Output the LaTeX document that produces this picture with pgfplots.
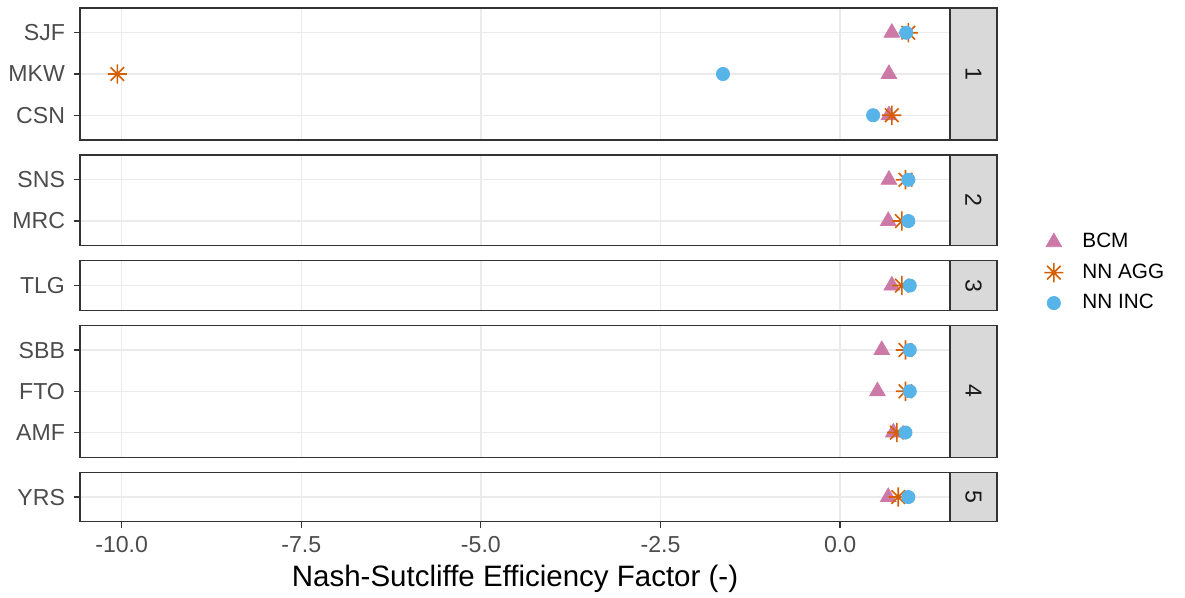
\documentclass[border=0pt]{standalone}
\usepackage{pgfplots}
\pgfplotsset{compat=1.18}
\usepackage{fontspec}
\setmainfont{Liberation Sans}
\definecolor{bcm}{HTML}{CC79A7}
\definecolor{agg}{HTML}{D55E00}
\definecolor{inc}{HTML}{56B4E9}
\definecolor{g10}{gray}{0.1}
\definecolor{g20}{gray}{0.2}
\definecolor{g30}{gray}{0.3}
\definecolor{g92}{gray}{0.92}
\definecolor{g85}{gray}{0.85}

\pgfdeclareplotmark{ast8}{%
  \pgfpathmoveto{\pgfqpoint{-\pgfplotmarksize}{0pt}}%
  \pgfpathlineto{\pgfqpoint{\pgfplotmarksize}{0pt}}%
  \pgfpathmoveto{\pgfqpoint{0pt}{-\pgfplotmarksize}}%
  \pgfpathlineto{\pgfqpoint{0pt}{\pgfplotmarksize}}%
  \pgfpathmoveto{\pgfqpoint{-0.7071\pgfplotmarksize}{-0.7071\pgfplotmarksize}}%
  \pgfpathlineto{\pgfqpoint{0.7071\pgfplotmarksize}{0.7071\pgfplotmarksize}}%
  \pgfpathmoveto{\pgfqpoint{-0.7071\pgfplotmarksize}{0.7071\pgfplotmarksize}}%
  \pgfpathlineto{\pgfqpoint{0.7071\pgfplotmarksize}{-0.7071\pgfplotmarksize}}%
  \pgfusepathqstroke}

\pgfplotsset{
  bcmst/.style={only marks, mark=triangle*, mark size=4.5bp, color=bcm, mark options={draw=bcm, fill=bcm}},
  aggst/.style={only marks, mark=ast8, mark size=4.8bp, color=agg, mark options={line width=0.8bp, draw=agg}},
  incst/.style={only marks, mark=*, mark size=3.3bp, color=inc, mark options={draw=inc, fill=inc}},
  panel/.style={
    scale only axis, width=435bp, xmin=-10.58, xmax=1.53, ymin=0.4,
    axis line style={draw=g20, line width=0.6bp},
    xtick={-10,-7.5,-5,-2.5,0},
    xmajorgrids, ymajorgrids, major grid style={draw=g92, line width=0.7bp},
    tick align=outside, major tick length=3bp,
    tick style={draw=g20, line width=0.6bp},
    xtick pos=bottom, ytick pos=left,
    yticklabel style={font=\fontsize{11.6}{13}\selectfont, text=g30, xshift=-1bp},
    clip=false,
  },
  inner/.style={xticklabels={}, x tick style={draw=none}},
}
\newcommand\strip[1]{%
  \draw[draw=g20, fill=g85, line width=0.6bp] (rel axis cs:1,0) rectangle ([xshift=23.5bp]rel axis cs:1,1);
  \node[rotate=-90, font=\fontsize{11.6}{13}\selectfont, text=g10] at ([xshift=11.75bp]rel axis cs:1,0.5) {#1};
}

\begin{document}
\begin{tikzpicture}
% Panel 1
\begin{axis}[panel, inner, name=p1, at={(0,0)}, anchor=north west,
  height=66bp, ymax=3.6, ytick={1,2,3}, yticklabels={CSN,MKW,SJF},
  legend style={at={(rel axis cs:1.101,-1.005)}, anchor=west, draw=none, fill=none,
    font=\fontsize{10.4}{12}\selectfont, row sep=2.5bp, text=black},
  legend cell align=left]
\addplot[bcmst] coordinates {(0.72,3) (0.68,2) (0.68,1)};
\addlegendentry{\hspace{7.5bp}BCM}
\addplot[aggst] coordinates {(0.95,3) (-10.06,2) (0.72,1)};
\addlegendentry{\hspace{7.5bp}NN AGG}
\addplot[incst] coordinates {(0.92,3) (-1.63,2) (0.46,1)};
\addlegendentry{\hspace{7.5bp}NN INC}
\strip{1}
\end{axis}
% Panel 2
\begin{axis}[panel, inner, name=p2, at={(p1.south west)}, anchor=north west, yshift=-7.5bp,
  height=45.4bp, ymax=2.6, ytick={1,2}, yticklabels={MRC,SNS}]
\addplot[bcmst] coordinates {(0.68,2) (0.67,1)};
\addplot[aggst] coordinates {(0.91,2) (0.86,1)};
\addplot[incst] coordinates {(0.95,2) (0.95,1)};
\strip{2}
\end{axis}
% Panel 3
\begin{axis}[panel, inner, name=p3, at={(p2.south west)}, anchor=north west, yshift=-7.5bp,
  height=24.75bp, ymax=1.6, ytick={1}, yticklabels={TLG}]
\addplot[bcmst] coordinates {(0.72,1)};
\addplot[aggst] coordinates {(0.86,1)};
\addplot[incst] coordinates {(0.97,1)};
\strip{3}
\end{axis}
% Panel 4
\begin{axis}[panel, inner, name=p4, at={(p3.south west)}, anchor=north west, yshift=-7.5bp,
  height=66bp, ymax=3.6, ytick={1,2,3}, yticklabels={AMF,FTO,SBB}]
\addplot[bcmst] coordinates {(0.58,3) (0.52,2) (0.74,1)};
\addplot[aggst] coordinates {(0.91,3) (0.91,2) (0.79,1)};
\addplot[incst] coordinates {(0.97,3) (0.97,2) (0.91,1)};
\strip{4}
\end{axis}
% Panel 5
\begin{axis}[panel, name=p5, at={(p4.south west)}, anchor=north west, yshift=-7.5bp,
  height=24.75bp, ymax=1.6, ytick={1}, yticklabels={YRS},
  xticklabel style={font=\fontsize{11.6}{13}\selectfont, text=g30, yshift=-1bp,
    /pgf/number format/.cd, fixed, fixed zerofill, precision=1, assume math mode=true},
  xlabel={Nash-Sutcliffe Efficiency Factor (-)},
  xlabel style={font=\fontsize{14.8}{17}\selectfont, text=black, yshift=1bp}]
\addplot[bcmst] coordinates {(0.67,1)};
\addplot[aggst] coordinates {(0.81,1)};
\addplot[incst] coordinates {(0.95,1)};
\strip{5}
\end{axis}
\pgfresetboundingbox
\path[use as bounding box] (-40bp,4bp) rectangle (552.5bp,-295bp);
\end{tikzpicture}
\end{document}
